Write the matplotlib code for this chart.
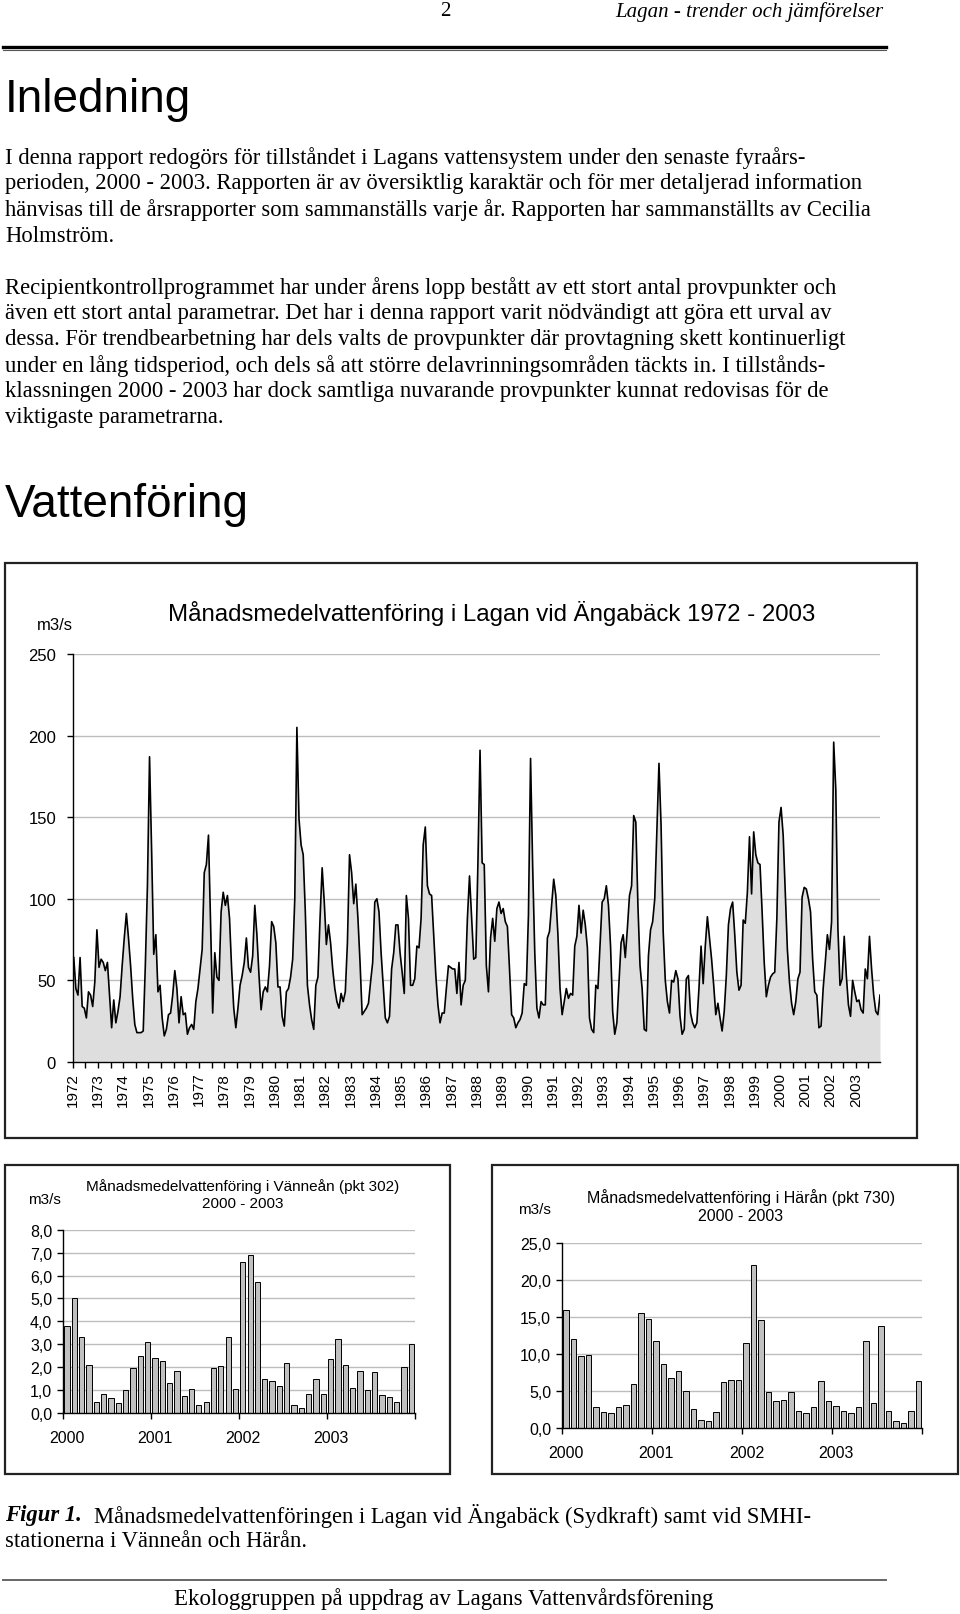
"""
Page 2 of 'Lagan - trender och jämförelser': intro text plus the
discharge figure (Ängabäck 1972-2003, Vänneån and Härån 2000-2003).
"""

import numpy as np
import matplotlib
matplotlib.use('Agg')
import matplotlib.pyplot as plt
from matplotlib.patches import Rectangle
from matplotlib.lines import Line2D

W, H = 960, 1615
SERIF = 'Liberation Serif'
SANS = 'Liberation Sans'
BODY = 16.3

# Monthly mean discharge, Lagan at Ängabäck, Jan 1972 - Dec 2003 (m3/s)
flow_angabacke = [
    64, 45, 41, 64, 34, 33, 27, 43, 41, 34, 49, 81,
    58, 63, 61, 56, 61, 41, 21, 38, 24, 31, 40, 59,
    76, 91, 76, 59, 39, 23, 18, 18, 18, 19, 59, 108,
    187, 129, 66, 78, 43, 47, 27, 16, 20, 29, 30, 41,
    56, 45, 24, 40, 29, 30, 17, 21, 23, 20, 37,
    45, 57, 69, 116, 121, 139, 84, 30, 67, 52, 50, 92,
    104, 96, 102, 88, 57, 33, 21, 33, 47, 53, 61,
    76, 58, 55, 65, 96, 78,
    53,
    32, 43, 46, 43, 59, 86, 83, 73, 46, 46, 28, 22,
    43, 45, 52, 63, 100, 205, 149, 133, 127, 92, 47, 35,
    26, 20, 47, 52, 88, 119, 98, 72, 84, 73, 57, 45,
    37, 33, 42, 37, 43, 73, 127, 116, 97, 109, 88, 61,
    29, 31, 33, 36, 49, 61, 98, 100, 92, 67, 47, 27,
    24, 28, 57, 67, 84, 84, 67, 55, 42, 102, 88, 47,
    47, 51, 71, 70, 88, 133, 144, 108, 103, 102, 78, 53,
    35, 24, 30, 30, 45, 59, 58, 57,
    57, 42, 61, 35, 47, 50, 88, 114, 88, 63, 64, 122,
    191, 122, 121, 59, 43, 76, 88, 74, 94, 98, 91, 94,
    86, 83, 57, 29, 27, 21, 24, 26, 30, 48, 47, 90,
    186, 120, 67, 33, 27, 37, 35, 35, 76, 80, 96, 112,
    102, 78, 45, 29, 37, 45, 39, 42, 41, 71, 77, 96,
    79, 93, 84, 70, 27, 20, 18, 47, 45, 71, 98, 100,
    108, 96, 71, 31, 17, 24, 49, 73, 78, 64, 82, 102,
    108, 151, 147, 96, 59, 45, 20, 19, 65,
    81, 86, 100, 141, 183, 145, 80, 50, 37, 30, 50, 49,
    56, 51, 28, 17, 20, 51, 53, 30, 24, 21, 24, 45,
    71, 48, 71, 89, 76, 63, 47, 29, 36, 27, 19, 31,
    53, 84, 94, 98, 78, 55, 44, 47, 87, 85, 104, 138,
    103, 141, 127, 122, 121, 92, 61, 40, 47, 52, 54, 55,
    88, 147, 156, 139, 104, 69, 49, 36, 29, 37, 51, 55,
    101, 107, 106, 100, 92, 63, 43, 41, 21, 22, 45, 61,
    78, 69, 86, 196, 167, 82, 47, 51, 77, 53, 35, 28,
    50, 43, 37, 38,
    32, 30, 57, 51, 77, 57, 41, 31, 29, 41,
]
years_long = list(range(1972, 2004))

# Monthly mean discharge 2000-2003 at the SMHI stations (m3/s)
flow_vannean = [
    3.8, 5.0, 3.3, 2.1, 0.5, 0.85, 0.65, 0.45, 1.0, 1.95, 2.5, 3.1,
    2.4, 2.25, 1.3, 1.85, 0.75, 1.05, 0.35, 0.5, 1.95, 2.05, 3.3, 1.05,
    6.6, 6.9, 5.7, 1.5, 1.4, 1.2, 2.2, 0.35, 0.2, 0.85, 1.5, 0.85,
    2.35, 3.25, 2.1, 1.1, 1.85, 1.0, 1.8, 0.8, 0.7, 0.5, 2.0, 3.0,
]
flow_haran = [
    16.0, 12.0, 9.7, 9.85, 2.9, 2.2, 2.0, 2.8, 3.1, 6.0, 15.6, 14.7,
    11.8, 8.7, 6.75, 7.7, 5.0, 2.6, 1.1, 0.9, 2.1, 6.2, 6.45, 6.45,
    11.5, 22.0, 14.6, 4.85, 3.65, 3.75, 4.85, 2.35, 2.05, 2.8, 6.3, 3.65,
    3.0, 2.3, 2.0, 2.8, 11.7, 3.4, 13.8, 2.3, 1.0, 0.7, 2.3, 6.3,
]
years_short = ['2000', '2001', '2002', '2003']

PARA1 = [
    "I denna rapport redogörs för tillståndet i Lagans vattensystem under den senaste fyraårs-",
    "perioden, 2000 - 2003. Rapporten är av översiktlig karaktär och för mer detaljerad information",
    "hänvisas till de årsrapporter som sammanställs varje år. Rapporten har sammanställts av Cecilia",
    "Holmström.",
]
PARA2 = [
    "Recipientkontrollprogrammet har under årens lopp bestått av ett stort antal provpunkter och",
    "även ett stort antal parametrar. Det har i denna rapport varit nödvändigt att göra ett urval av",
    "dessa. För trendbearbetning har dels valts de provpunkter där provtagning skett kontinuerligt",
    "under en lång tidsperiod, och dels så att större delavrinningsområden täckts in. I tillstånds-",
    "klassningen 2000 - 2003 har dock samtliga nuvarande provpunkter kunnat redovisas för de",
    "viktigaste parametrarna.",
]


def fx(px):
    return px / W


def fy(py):
    return 1 - py / H


def rect(x0, y0, x1, y1):
    """Axes rectangle from pixel corners (top-left origin)."""
    return [x0 / W, 1 - y1 / H, (x1 - x0) / W, (y1 - y0) / H]


def comma(v):
    return f'{v:.1f}'.replace('.', ',')


def frame(fig, x0, y0, x1, y1, lw=1.6):
    fig.patches.append(Rectangle((fx(x0), fy(y1)), (x1 - x0) / W, (y1 - y0) / H,
                                 transform=fig.transFigure, fill=False,
                                 edgecolor='#222222', linewidth=lw))


def hline(fig, x0, x1, y, lw, color='black'):
    fig.lines.append(Line2D([fx(x0), fx(x1)], [fy(y), fy(y)], transform=fig.transFigure,
                            color=color, linewidth=lw))


def style_axes(ax):
    for s in ['top', 'right']:
        ax.spines[s].set_visible(False)
    for s in ['left', 'bottom']:
        ax.spines[s].set_color('black')
        ax.spines[s].set_linewidth(1.0)
    ax.yaxis.grid(True, color='#bdbdbd', linewidth=1.0)
    ax.set_axisbelow(True)


def draw_text(fig):
    fig.text(fx(445), fy(12), '2', family=SERIF, fontsize=15, ha='center', va='center')
    fig.text(fx(883), fy(12), 'Lagan - trender och jämförelser', family=SERIF,
             style='italic', fontsize=15, ha='right', va='center')
    hline(fig, 3, 886, 47.5, 2.4)
    hline(fig, 3, 886, 50.5, 0.8, '#555555')

    fig.text(fx(5), fy(100), 'Inledning', family=SANS, fontsize=33, ha='left', va='center')
    for i, line in enumerate(PARA1):
        fig.text(fx(5), fy(158 + 26 * i), line, family=SERIF, fontsize=BODY,
                 ha='left', va='center')
    for i, line in enumerate(PARA2):
        fig.text(fx(5), fy(288 + 26 * i), line, family=SERIF, fontsize=BODY,
                 ha='left', va='center')
    fig.text(fx(5), fy(505), 'Vattenföring', family=SANS, fontsize=33, ha='left', va='center')

    fig.text(fx(5), fy(1516), 'Figur 1.', family=SERIF, style='italic', weight='bold',
             fontsize=BODY, ha='left', va='center')
    fig.text(fx(94), fy(1516),
             'Månadsmedelvattenföringen i Lagan vid Ängabäck (Sydkraft) samt vid SMHI-',
             family=SERIF, fontsize=BODY, ha='left', va='center')
    fig.text(fx(5), fy(1542), 'stationerna i Vänneån och Härån.', family=SERIF,
             fontsize=BODY, ha='left', va='center')

    hline(fig, 3, 886, 1581, 1.4, '#666666')
    fig.text(fx(444), fy(1599), 'Ekologgruppen på uppdrag av Lagans Vattenvårdsförening',
             family=SERIF, fontsize=16.5, ha='center', va='center')


def draw_long_series(fig):
    frame(fig, 5, 564, 917, 1139)
    ax = fig.add_axes(rect(72.7, 655, 880, 1063))
    x = np.arange(len(flow_angabacke))
    ax.fill_between(x, flow_angabacke, color='#dedede', linewidth=0)
    ax.plot(x, flow_angabacke, color='black', linewidth=1.2)
    ax.set_xlim(-0.5, len(flow_angabacke) - 1)
    ax.set_ylim(0, 250)
    style_axes(ax)
    ax.set_yticks(range(0, 251, 50))
    ax.set_yticklabels([str(v) for v in range(0, 251, 50)], family=SANS, fontsize=12)
    major = [12 * k - 0.5 for k in range(len(years_long))]
    ax.set_xticks(major)
    ax.set_xticklabels([str(y) for y in years_long], family=SANS, fontsize=11, rotation=90)
    ax.set_xticks([12 * k + 5.5 for k in range(len(years_long))], minor=True)
    ax.tick_params(axis='x', which='both', direction='out', length=4, width=1, pad=3)
    ax.tick_params(axis='y', direction='out', length=4, width=1, pad=8)
    fig.text(fx(55), fy(626), 'm3/s', family=SANS, fontsize=12, ha='center', va='center')
    fig.text(fx(492), fy(613), 'Månadsmedelvattenföring i Lagan vid Ängabäck 1972 - 2003',
             family=SANS, fontsize=17.3, ha='center', va='center')


def draw_bar_panel(fig, box, area, values, ymax, ystep, title, title_xy, unit_xy, title_size):
    frame(fig, *box)
    ax = fig.add_axes(rect(*area))
    x = np.arange(len(values))
    ax.bar(x, values, width=0.72, color='#c0c0c0', edgecolor='black', linewidth=0.7)
    ax.set_xlim(-0.5, len(values) - 0.5)
    ax.set_ylim(0, ymax)
    style_axes(ax)
    ticks = np.arange(0, ymax + ystep / 2, ystep)
    ax.set_yticks(ticks)
    ax.set_yticklabels([comma(v) for v in ticks], family=SANS, fontsize=11.5)
    # year ticks on the boundaries, labels just to the right of them
    ax.set_xticks([12 * k - 0.5 for k in range(5)])
    ax.set_xticklabels([])
    ax.set_xticks([12 * k + 0.05 for k in range(4)], minor=True)
    ax.set_xticklabels(years_short, minor=True, family=SANS, fontsize=11.5)
    ax.tick_params(axis='x', which='major', direction='out', length=4, width=1)
    ax.tick_params(axis='x', which='minor', length=0, pad=12)
    ax.tick_params(axis='y', direction='out', length=4, width=1, pad=4)
    fig.text(fx(title_xy[0]), fy(title_xy[1]), title, family=SANS, fontsize=title_size,
             ha='center', va='center', linespacing=1.25)
    fig.text(fx(unit_xy[0]), fy(unit_xy[1]), 'm3/s', family=SANS, fontsize=11,
             ha='center', va='center')


def main():
    fig = plt.figure(figsize=(W / 100, H / 100), dpi=100)
    draw_text(fig)
    draw_long_series(fig)
    draw_bar_panel(fig, (5, 1166, 450, 1475), (63.3, 1230.7, 415, 1414), flow_vannean,
                   8, 1, 'Månadsmedelvattenföring i Vänneån (pkt 302)\n2000 - 2003',
                   (243, 1195), (44, 1200), 11)
    draw_bar_panel(fig, (492, 1166, 958, 1475), (562.3, 1244, 922.3, 1429), flow_haran,
                   25, 5, 'Månadsmedelvattenföring i Härån (pkt 730)\n2000 - 2003',
                   (741, 1207), (534, 1210), 11.5)
    fig.savefig('out.png', dpi=100)
    plt.close(fig)


if __name__ == '__main__':
    main()
